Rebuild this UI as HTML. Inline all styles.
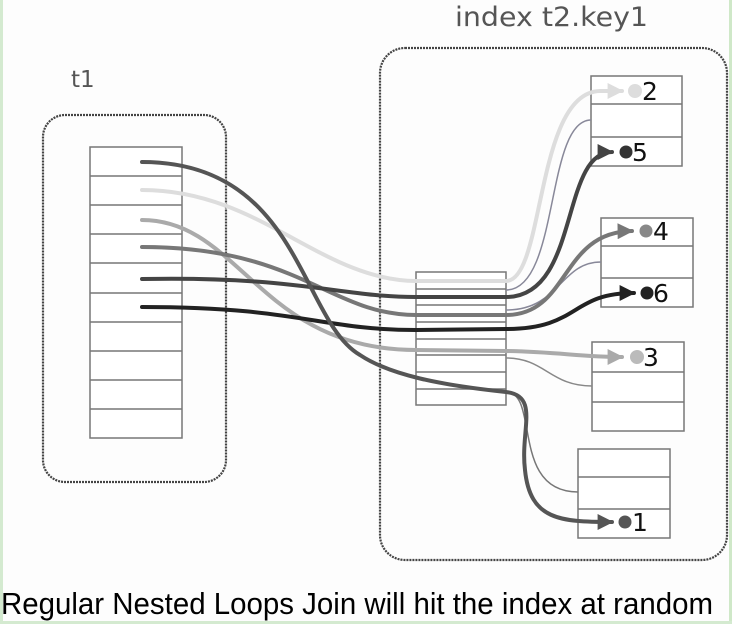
<!DOCTYPE html>
<html><head><meta charset="utf-8"><style>
html,body{margin:0;padding:0;background:#fff}
svg{display:block}
</style></head><body>
<svg width="732" height="624" viewBox="0 0 732 624" xmlns="http://www.w3.org/2000/svg">
<defs>
<marker id="ah" viewBox="0 0 10 10" refX="9" refY="5" markerWidth="4" markerHeight="4" orient="auto"><path d="M0,0 L10,5 L0,10 z" fill="context-stroke"/></marker>
</defs>
<rect x="0" y="0" width="732" height="624" fill="#fdfdfd"/>
<rect x="0" y="0" width="3" height="624" fill="#d4ead0"/>
<rect x="729" y="0" width="3" height="624" fill="#cfe8c8"/>
<rect x="0" y="621" width="732" height="3" fill="#d4ead0"/>

<text x="455" y="26" font-family="'DejaVu Sans',sans-serif" font-size="27" fill="#555" textLength="193" lengthAdjust="spacingAndGlyphs">index t2.key1</text>
<text x="71" y="87" font-family="'DejaVu Sans',sans-serif" font-size="23" fill="#555">t1</text>

<rect x="43" y="115" width="183" height="367" rx="22" fill="none" stroke="#444" stroke-width="2.2" stroke-dasharray="2,1"/>
<rect x="380" y="48" width="347" height="512" rx="25" fill="none" stroke="#444" stroke-width="2.2" stroke-dasharray="2,1"/>

<g fill="#fff" stroke="#777" stroke-width="1.5">
<rect x="90" y="147" width="92" height="291"/>
<path d="M90 176H182M90 205H182M90 234H182M90 263H182M90 293H182M90 322H182M90 351H182M90 380H182M90 409H182"/>
<rect x="416" y="272" width="90" height="133"/>
<path d="M416 289H506M416 305H506M416 322H506M416 339H506M416 355H506M416 372H506M416 389H506"/>
<rect x="591" y="76" width="91" height="90"/><path d="M591 104H682M591 137H682"/>
<rect x="601" y="218" width="92" height="89"/><path d="M601 246H693M601 278H693"/>
<rect x="592" y="342" width="92" height="89"/><path d="M592 372H684M592 402H684"/>
<rect x="578" y="449" width="92" height="89"/><path d="M578 477H670M578 509H670"/>
</g>

<g fill="none" stroke-width="1.5">
<path d="M506 290 C560 290 545 120 591 120" stroke="#889"/>
<path d="M506 310 C560 310 560 262 601 262" stroke="#889"/>
<path d="M506 358 C545 358 550 386 592 386" stroke="#888"/>
<path d="M506 392 C540 392 510 492 578 492" stroke="#777"/>
</g>

<g fill="none" stroke-linecap="round">
<path d="M142 190 C260 190 320 280 416 281 L506 281 C545 281 535 92 600 91 L622 91" stroke="#ddd" stroke-width="4" marker-end="url(#ah)"/>
<path d="M142 220 C240 220 260 350 416 350 L506 351 C560 352 580 357 622 357" stroke="#aaa" stroke-width="4" marker-end="url(#ah)"/>
<path d="M142 247 C300 247 330 315 416 315 L506 315 C570 315 560 232 632 231" stroke="#777" stroke-width="4" marker-end="url(#ah)"/>
<path d="M142 279 C300 276 340 297 416 297 L506 297 C580 297 560 152 612 152" stroke="#444" stroke-width="4" marker-end="url(#ah)"/>
<path d="M142 307 C300 307 320 330 416 330 L506 329 C580 329 570 293 634 293" stroke="#222" stroke-width="4" marker-end="url(#ah)"/>
<path d="M142 162 C300 162 300 320 360 355 C390 375 440 385 506 392 C540 396 520 430 525 470 C530 520 560 522 612 522" stroke="#555" stroke-width="4" marker-end="url(#ah)"/>
</g>

<g>
<circle cx="635" cy="91" r="7" fill="#ddd"/>
<circle cx="626" cy="152" r="6.5" fill="#333"/>
<circle cx="646" cy="231" r="6.5" fill="#888"/>
<circle cx="647" cy="293" r="6.5" fill="#222"/>
<circle cx="637" cy="357" r="7" fill="#bbb"/>
<circle cx="625" cy="522" r="6.5" fill="#555"/>
</g>
<g font-family="'DejaVu Sans',sans-serif" font-size="25" fill="#111">
<text x="642" y="100">2</text>
<text x="632" y="161">5</text>
<text x="653" y="240">4</text>
<text x="653" y="302">6</text>
<text x="643" y="366">3</text>
<text x="632" y="531">1</text>
</g>

<text x="1" y="614" font-family="'Liberation Sans Narrow','Liberation Sans',sans-serif" font-size="31" fill="#000" textLength="712" lengthAdjust="spacingAndGlyphs">Regular Nested Loops Join will hit the index at random</text>
</svg>
</body></html>
